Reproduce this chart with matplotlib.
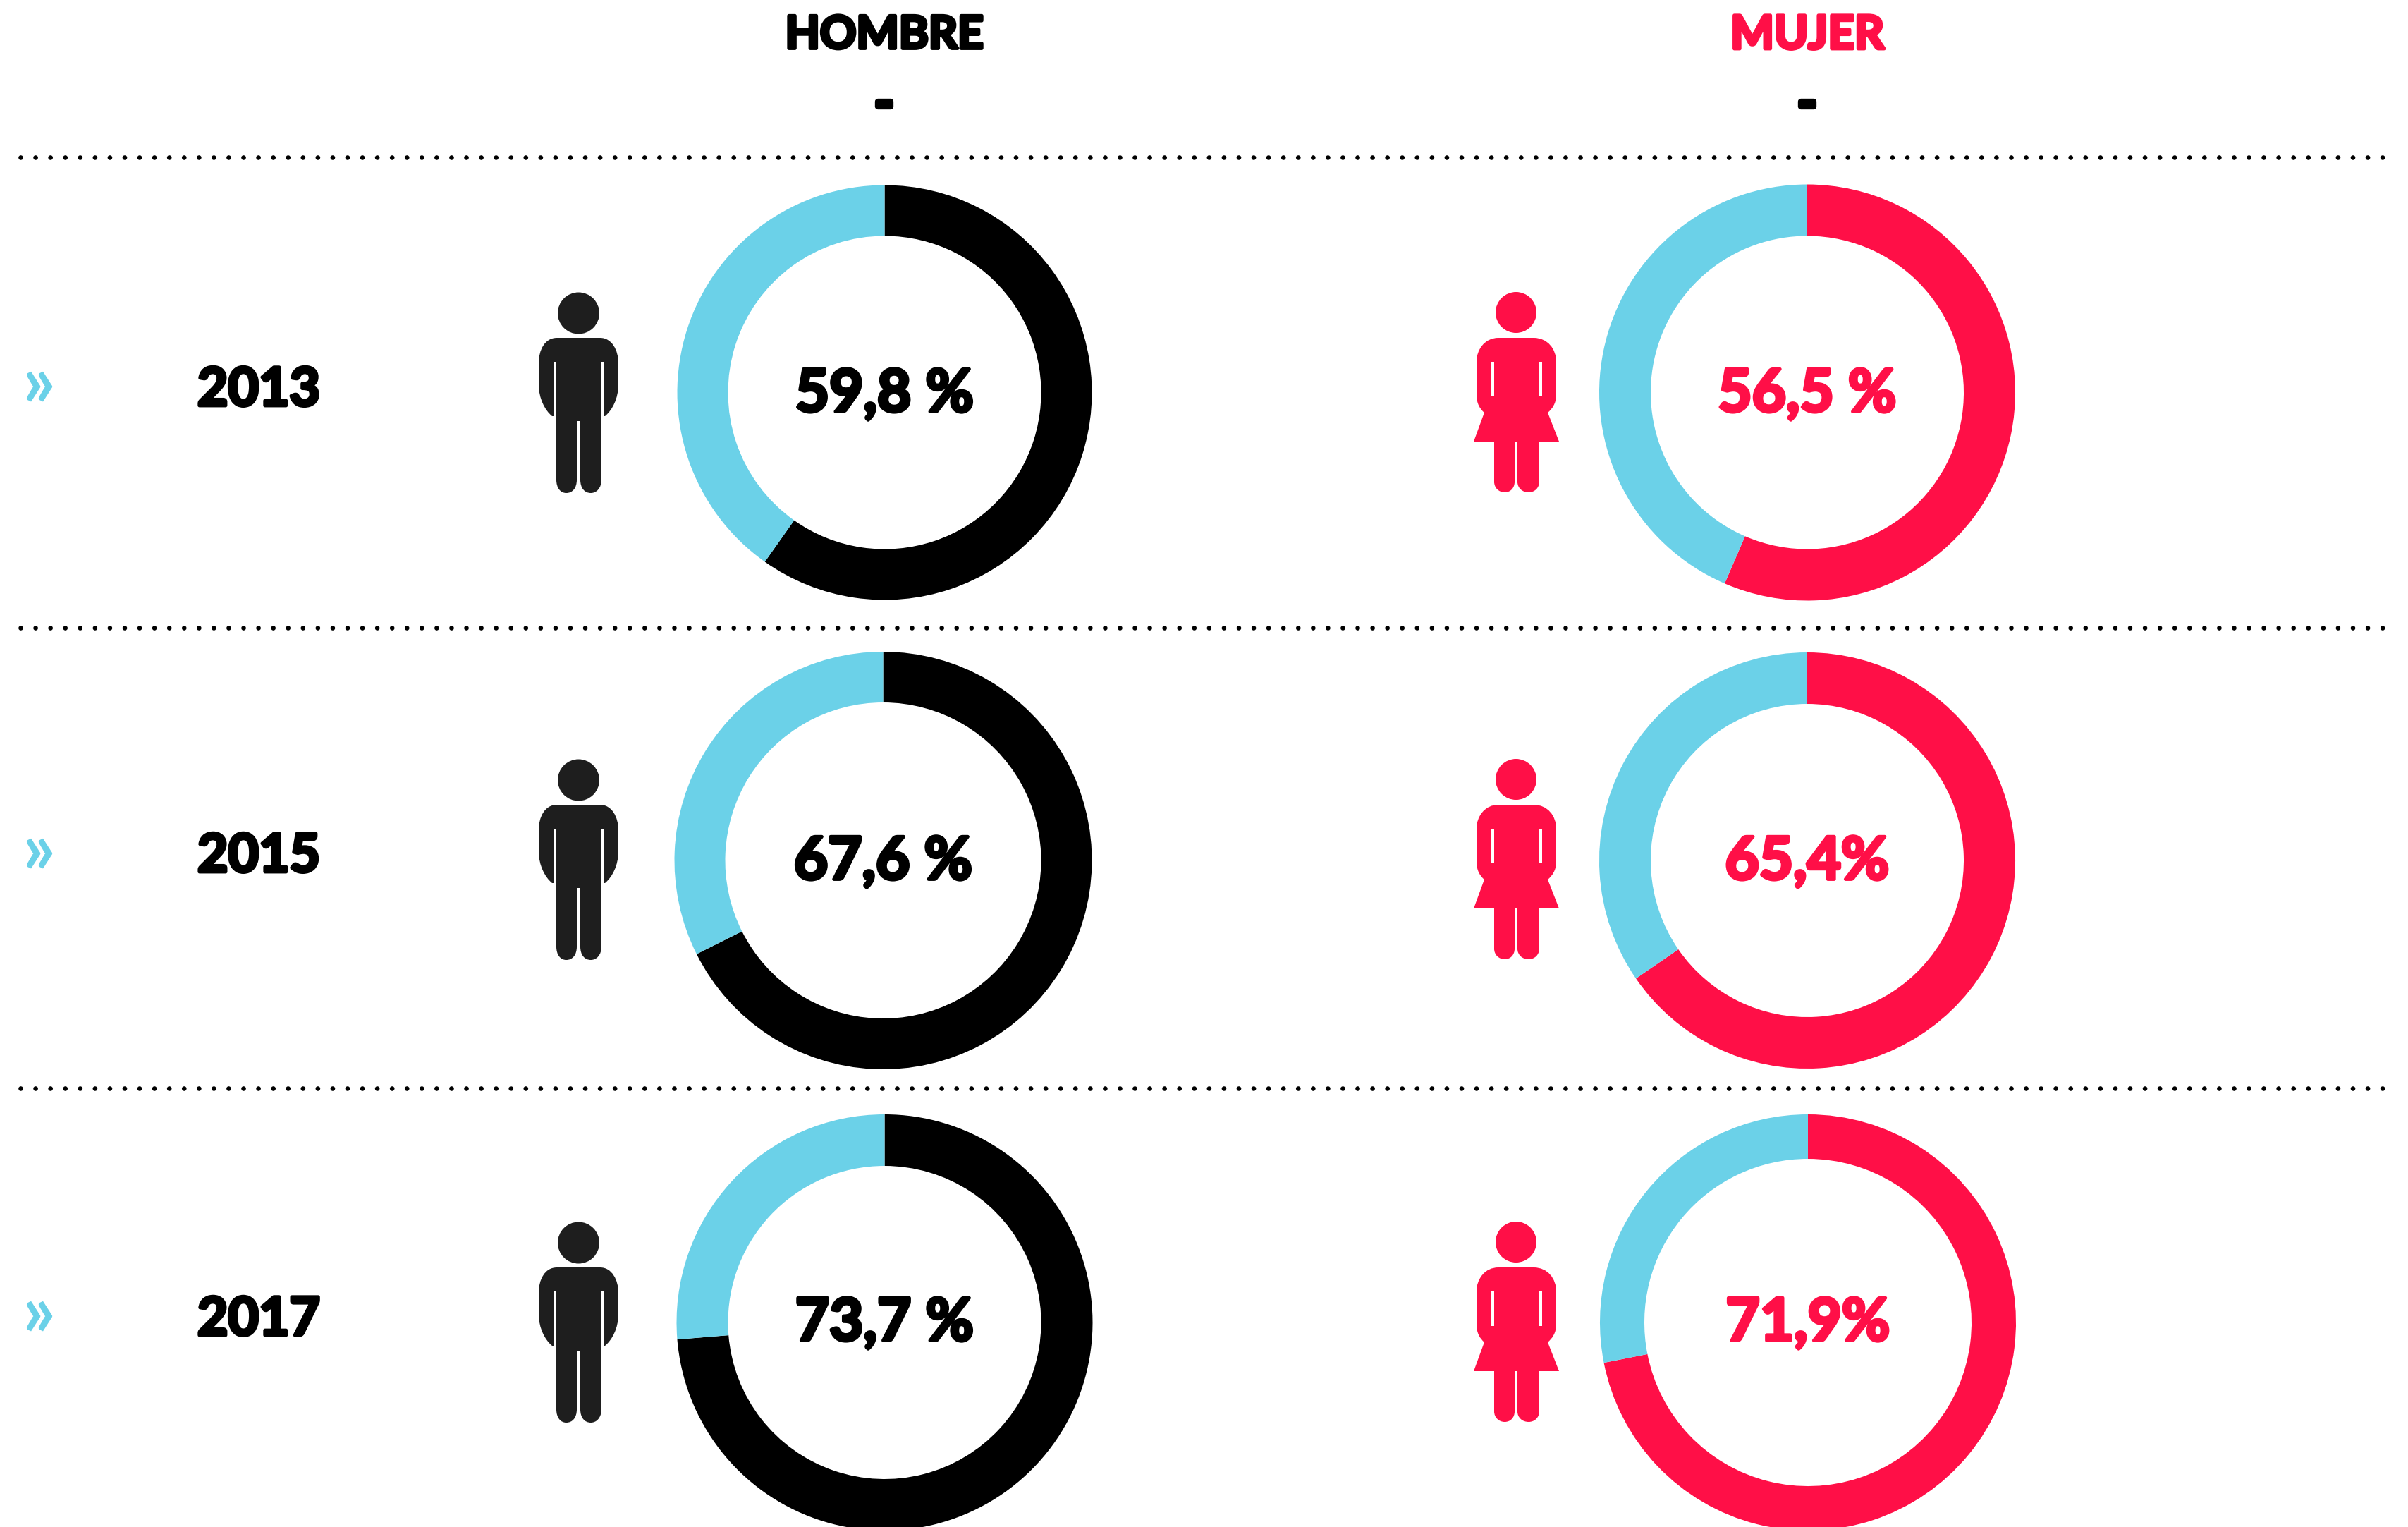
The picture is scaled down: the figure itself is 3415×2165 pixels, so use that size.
import matplotlib
matplotlib.use('Agg')
import matplotlib.pyplot as plt
import matplotlib.patheffects as pe
from matplotlib.path import Path
from matplotlib.patches import PathPatch, Circle, Rectangle

years = ['2013', '2015', '2017']
hombre = [59.8, 67.6, 73.7]
mujer = [56.5, 65.4, 71.9]
hombre_labels = ['59,8 %', '67,6 %', '73,7 %']
mujer_labels = ['56,5 %', '65,4%', '71,9%']

W, H = 3415, 2165
BLUE = '#6bd1e8'
RED = '#ff0f47'
BLACK = '#000000'
DARK = '#1e1e1e'
FONT = ['Lato', 'DejaVu Sans']

fig = plt.figure(figsize=(W / 100, H / 100), dpi=100, facecolor='white')
ax = fig.add_axes([0, 0, 1, 1])


def y_(y):
    return H - y


def donut(cx, cy, outer, inner, value, color):
    ax.pie([value, 100 - value], colors=[color, BLUE], startangle=90, counterclock=False,
           center=(cx, y_(cy)), radius=outer,
           wedgeprops=dict(width=outer - inner, linewidth=0))


def heavy(x, y, s, color, size, stroke=3.5):
    # Lato has no black weight here, so thicken the bold with a stroke
    t = ax.text(x, y_(y), s, color=color, family=FONT, weight='bold', fontsize=size,
                ha='center', va='center_baseline')
    t.set_path_effects([pe.withStroke(linewidth=stroke, foreground=color)])


def man(dy):
    M, L, C, Z = Path.MOVETO, Path.LINETO, Path.CURVE4, Path.CLOSEPOLY
    seg = [(M, (790, 479)), (L, (851, 479)),
           (C, (868, 479)), (C, (877, 497)), (C, (877, 515)), (L, (877, 545)),
           (C, (877, 565)), (C, (868, 582)), (C, (858, 590)), (L, (856, 590)),
           (L, (856, 513)), (L, (853, 513)), (L, (853, 680)),
           (C, (853, 692)), (C, (846, 699)), (C, (838, 699)),
           (C, (829, 699)), (C, (823, 692)), (C, (823, 680)),
           (L, (823, 597)), (L, (818, 597)), (L, (818, 680)),
           (C, (818, 692)), (C, (812, 699)), (C, (803, 699)),
           (C, (795, 699)), (C, (789, 692)), (C, (789, 680)),
           (L, (789, 513)), (L, (785, 513)), (L, (785, 590)), (L, (783, 590)),
           (C, (773, 582)), (C, (764, 565)), (C, (764, 545)), (L, (764, 515)),
           (C, (764, 497)), (C, (772, 479)), (C, (790, 479)), (Z, (790, 479))]
    path = Path([(x, y_(y + dy)) for c, (x, y) in seg], [c for c, p in seg])
    ax.add_patch(PathPatch(path, fc=DARK, lw=0))
    ax.add_patch(Circle((820.5, y_(444 + dy)), 29.5, fc=DARK, lw=0))


def woman(dy):
    M, L, C, Z = Path.MOVETO, Path.LINETO, Path.CURVE4, Path.CLOSEPOLY
    seg = [(M, (2125, 479)), (L, (2175, 479)),
           (C, (2195, 479)), (C, (2207, 495)), (C, (2207, 513)), (L, (2207, 560)),
           (C, (2207, 572)), (C, (2201, 580)), (C, (2195, 585)),
           (L, (2211, 626)), (L, (2183, 626)), (L, (2183, 683)),
           (C, (2183, 692)), (C, (2176, 698)), (C, (2168, 698)),
           (C, (2159, 698)), (C, (2152, 692)), (C, (2152, 683)),
           (L, (2152, 626)), (L, (2148, 626)), (L, (2148, 683)),
           (C, (2148, 692)), (C, (2142, 698)), (C, (2134, 698)),
           (C, (2126, 698)), (C, (2119, 692)), (C, (2119, 683)),
           (L, (2119, 626)), (L, (2090, 626)), (L, (2105, 585)),
           (C, (2099, 580)), (C, (2094, 572)), (C, (2094, 560)), (L, (2094, 513)),
           (C, (2094, 495)), (C, (2106, 479)), (C, (2125, 479)), (Z, (2125, 479))]
    path = Path([(x, y_(y + dy)) for c, (x, y) in seg], [c for c, p in seg])
    ax.add_patch(PathPatch(path, fc=RED, lw=0))
    ax.add_patch(Circle((2150, y_(443 + dy)), 29, fc=RED, lw=0))
    # white slits between arms and body
    ax.add_patch(Rectangle((2114, y_(562 + dy)), 5, 49, fc='white', lw=0))
    ax.add_patch(Rectangle((2182, y_(562 + dy)), 5, 49, fc='white', lw=0))


# rows, top to bottom
hombre_x = [1254.5, 1252.5, 1254.5]
mujer_x = [2563, 2563, 2564]
donut_y = [556.5, 1220, 1875]
text_y = [553, 1216, 1870]
hombre_r = [(294, 222), (296, 224), (295, 222)]
mujer_r = [(295, 222), (295, 222), (295, 232)]
icon_dy = [0, 662, 1318]
year_y = [547, 1208, 1865]
arrow_y = [537, 1199, 1855]
sep_y = [223.3, 890, 1543.3]

for i in range(3):
    donut(hombre_x[i], donut_y[i], *hombre_r[i], hombre[i], BLACK)
    donut(mujer_x[i], donut_y[i], *mujer_r[i], mujer[i], RED)
    man(icon_dy[i])
    woman(icon_dy[i])
    heavy(hombre_x[i], text_y[i], hombre_labels[i], BLACK, 60)
    heavy(mujer_x[i], text_y[i], mujer_labels[i], RED, 60)
    heavy(367, year_y[i], years[i], BLACK, 54)
    ax.text(55, y_(arrow_y[i]), '»', color=BLUE, family=FONT,
            weight='bold', fontsize=74, ha='center', va='center_baseline')

# header
heavy(1254, 45, 'HOMBRE', BLACK, 46)
heavy(2563, 45, 'MUJER', RED, 47)
heavy(1254, 143, '-', BLACK, 50, stroke=6)
heavy(2563, 143, '-', BLACK, 50, stroke=6)

# dotted separators
for y in sep_y:
    ax.plot([29, 3396], [y_(y), y_(y)], color=BLACK, lw=4.8, dash_capstyle='round',
            linestyle=(0, (0.01, 3.15)))

ax.set_xlim(0, W)
ax.set_ylim(0, H)
ax.axis('off')

fig.savefig('out.png', dpi=100, facecolor='white')
